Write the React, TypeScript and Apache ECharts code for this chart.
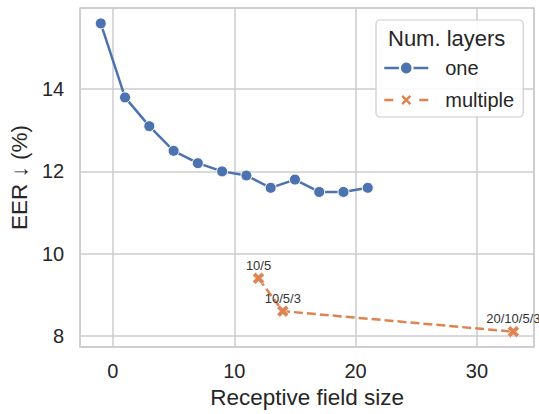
import React, { useEffect, useRef } from "react";
import * as echarts from "echarts";

const oneX = [-1, 1, 3, 5, 7, 9, 11, 13, 15, 17, 19, 21];
const oneY = [15.6, 13.8, 13.1, 12.5, 12.2, 12.0, 11.9, 11.6, 11.8, 11.5, 11.5, 11.6];
const multiX = [12, 14, 33];
const multiY = [9.4, 8.6, 8.1];
const multiLabels = ["10/5", "10/5/3", "20/10/5/3"];
const seriesNames = ["one", "multiple"];
const legendTitle = "Num. layers";
const xTitle = "Receptive field size";
const yTitle = "EER \u2193 (%)";

const FONT = "'Liberation Sans', Arial, sans-serif";
const TEXT = "#262626";
const GRID = "#cccccc";
const BLUE = "#4c72b0";
const ORANGE = "#dd8452";
const XMARK = "path://M-4,-2 L-2,-4 L0,-2 L2,-4 L4,-2 L2,0 L4,2 L2,4 L0,2 L-2,4 L-4,2 L-2,0 Z";

export default function App() {
  const ref = useRef<HTMLDivElement>(null);
  useEffect(() => {
    if (!ref.current) return;
    const chart = echarts.init(ref.current, undefined, { renderer: "svg" });
    chart.setOption({
      animation: false,
      backgroundColor: "#ffffff",
      textStyle: { fontFamily: FONT },
      grid: {
        left: 77,
        top: 8,
        right: 5,
        bottom: 64,
        show: true,
        borderColor: GRID,
        borderWidth: 1.5,
        containLabel: false,
      },
      xAxis: {
        type: "value",
        min: -2.7,
        max: 34.7,
        splitNumber: 4,
        name: xTitle,
        nameLocation: "middle",
        nameGap: 38,
        nameTextStyle: { fontSize: 22.5, color: TEXT, fontFamily: FONT },
        axisLine: { show: false },
        axisTick: { show: false },
        axisLabel: {
          fontSize: 20,
          color: TEXT,
          margin: 14,
          showMinLabel: false,
          showMaxLabel: false,
          fontFamily: FONT,
        },
        splitLine: { show: true, lineStyle: { color: GRID, width: 1.5 } },
      },
      yAxis: {
        type: "value",
        min: 7.725,
        max: 15.975,
        splitNumber: 4,
        name: yTitle,
        nameLocation: "middle",
        nameGap: 46,
        nameRotate: 90,
        nameTextStyle: { fontSize: 22.5, color: TEXT, fontFamily: FONT },
        axisLine: { show: false },
        axisTick: { show: false },
        axisLabel: {
          fontSize: 20,
          color: TEXT,
          margin: 16,
          showMinLabel: false,
          showMaxLabel: false,
          fontFamily: FONT,
        },
        splitLine: { show: true, lineStyle: { color: GRID, width: 1.5 } },
      },
      legend: {
        orient: "vertical",
        left: 376,
        top: 20,
        padding: [38, 9, 7, 7],
        itemWidth: 44,
        itemHeight: 16,
        itemGap: 12,
        borderColor: GRID,
        borderWidth: 1.2,
        borderRadius: 4,
        backgroundColor: "rgba(255,255,255,0.85)",
        lineStyle: { width: 2.5 },
        textStyle: { fontSize: 20, color: TEXT, fontFamily: FONT, padding: [0, 0, 0, 12] },
        data: [
          { name: seriesNames[0] },
          { name: seriesNames[1], lineStyle: { width: 2.5, type: [9, 26] } },
        ],
      },
      graphic: [
        {
          type: "text",
          left: 388,
          top: 27,
          z: 100,
          style: { text: legendTitle, fontSize: 22, fill: TEXT, fontFamily: FONT },
        },
      ],
      series: [
        {
          name: seriesNames[0],
          type: "line",
          data: oneX.map((x, i) => [x, oneY[i]]),
          symbol: "circle",
          symbolSize: 11,
          color: BLUE,
          lineStyle: { width: 2.5, color: BLUE },
          itemStyle: { color: BLUE, borderColor: "#ffffff", borderWidth: 1 },
          z: 3,
        },
        {
          name: seriesNames[1],
          type: "line",
          data: multiX.map((x, i) => [x, multiY[i], multiLabels[i]]),
          symbol: XMARK,
          symbolSize: 12,
          color: ORANGE,
          lineStyle: { width: 2.5, color: ORANGE, type: [9, 4] },
          itemStyle: { color: ORANGE, borderColor: "#ffffff", borderWidth: 0.5 },
          label: {
            show: true,
            position: "top",
            distance: 0,
            fontSize: 13,
            color: "#333333",
            fontFamily: FONT,
            formatter: (p: any) => p.value[2],
          },
          z: 3,
        },
      ],
    });
    return () => chart.dispose();
  }, []);
  return (
    <div
      ref={ref}
      style={{ position: "fixed", left: 0, top: 0, width: 539, height: 414 }}
    />
  );
}
